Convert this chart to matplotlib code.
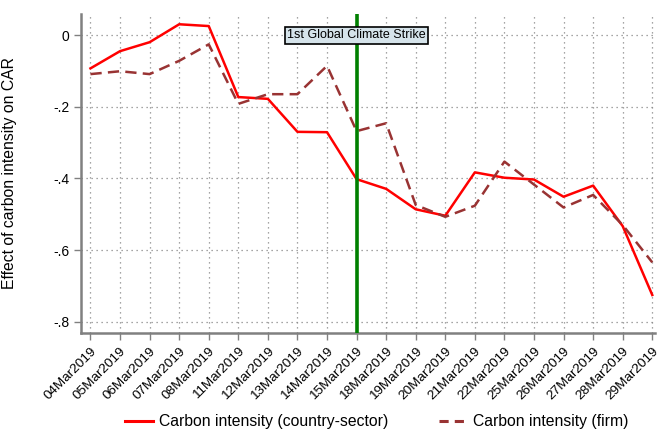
import matplotlib
matplotlib.use("Agg")
import matplotlib.pyplot as plt
from matplotlib.lines import Line2D

plt.rcParams['font.family'] = ['Liberation Sans', 'DejaVu Sans']

dates = ["04Mar2019", "05Mar2019", "06Mar2019", "07Mar2019", "08Mar2019",
         "11Mar2019", "12Mar2019", "13Mar2019", "14Mar2019", "15Mar2019",
         "18Mar2019", "19Mar2019", "20Mar2019", "21Mar2019", "22Mar2019",
         "25Mar2019", "26Mar2019", "27Mar2019", "28Mar2019", "29Mar2019"]

# coefficients by event day
country_sector = [-0.093, -0.045, -0.020, 0.030, 0.025, -0.173, -0.178, -0.270, -0.271, -0.402,
                  -0.429, -0.486, -0.504, -0.383, -0.398, -0.403, -0.451, -0.420, -0.533, -0.725]
firm = [-0.109, -0.101, -0.109, -0.072, -0.026, -0.192, -0.165, -0.165, -0.086, -0.268,
        -0.246, -0.474, -0.507, -0.476, -0.353, -0.417, -0.481, -0.446, -0.530, -0.634]

yticks = [0, -0.2, -0.4, -0.6, -0.8]
ytick_labels = ["0", "-.2", "-.4", "-.6", "-.8"]
strike_day = "15Mar2019"

x = list(range(len(dates)))
strike_x = dates.index(strike_day)

fig = plt.figure(figsize=(6.57, 4.30), dpi=100)
ax = fig.add_axes([0.1233, 0.2256, 0.874, 0.7418])

ax.plot(x, country_sector, color='#ff0000', lw=1.8, zorder=3)
ax.plot(x, firm, color='#993333', lw=1.8, ls=(0, (4.5, 2.5)), zorder=3)
ax.axvline(strike_x, color='#008000', lw=2.6, zorder=4)

ax.text(strike_x, 0, "1st Global Climate Strike", ha='center', va='center', fontsize=9,
        bbox=dict(boxstyle='square,pad=0.2', facecolor='#d5e3ea', edgecolor='black', lw=1.2),
        zorder=5)

ax.set_xlim(-0.32, 19.1)
ax.set_ylim(-0.831, 0.0586)
ax.set_xticks(x)
ax.set_xticklabels(dates, rotation=45, ha='right', rotation_mode='anchor', fontsize=9.7)
ax.set_yticks(yticks)
ax.set_yticklabels(ytick_labels, fontsize=10)
ax.grid(True, ls=(0, (1, 3)), color='#888888', lw=0.9)
ax.set_axisbelow(True)

for side in ['top', 'right']:
    ax.spines[side].set_visible(False)
for side in ['left', 'bottom']:
    ax.spines[side].set_color('#808080')
    ax.spines[side].set_linewidth(1.8)
ax.tick_params(color='#808080', width=1, length=5)

ax.set_ylabel("Effect of carbon intensity on CAR", fontsize=11.3)
ax.yaxis.set_label_coords(-0.1115, 0.5)

handles = [Line2D([], [], color='#ff0000', lw=2.2),
           Line2D([], [], color='#993333', lw=2.2, ls=(0, (3, 2)))]
fig.legend(handles, ["Carbon intensity (country-sector)", "Carbon intensity (firm)"],
           loc='center', bbox_to_anchor=(0.573, 0.019), ncol=2, frameon=False,
           fontsize=11.35, handlelength=1.8, handletextpad=0.35, columnspacing=3.2)

fig.savefig("out.png", dpi=100)
